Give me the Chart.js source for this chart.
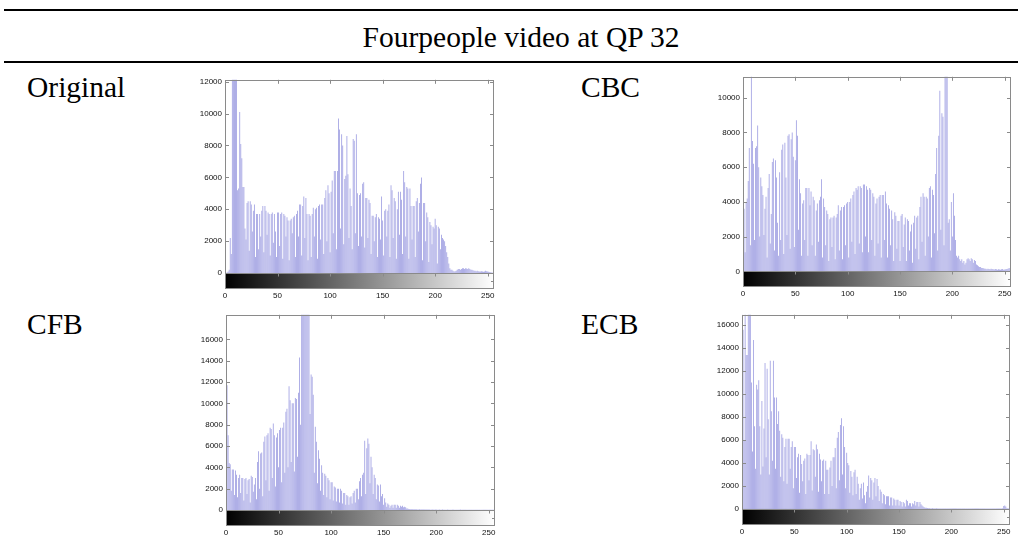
<!DOCTYPE html>
<html>
<head>
<meta charset="utf-8">
<script src="https://cdn.jsdelivr.net/npm/chart.js@4.4.1/dist/chart.umd.min.js"></script>
<style>
  html, body { margin: 0; padding: 0; background: #fff; }
  body { width: 1018px; height: 541px; position: relative; overflow: hidden; }
  .rule { position: absolute; left: 4px; width: 1014px; height: 2px; background: #000; }
  .lbl { position: absolute; font-family: "Liberation Serif", "Times New Roman", serif; font-size: 29.5px; line-height: 28px; color: #000; white-space: nowrap; }
  canvas { position: absolute; }
</style>
</head>
<body>
<div class="rule" style="top:9px"></div>
<div class="lbl" id="title" style="top:23px; left:0; width:1042px; text-align:center;">Fourpeople video at QP 32</div>
<div class="rule" style="top:61px"></div>
<div class="lbl" style="top:73px; left:27px;">Original</div>
<div class="lbl" style="top:73px; left:581px;">CBC</div>
<div class="lbl" style="top:310px; left:27px;">CFB</div>
<div class="lbl" style="top:310px; left:581px;">ECB</div>
<canvas id="c0"></canvas>
<canvas id="c1"></canvas>
<canvas id="c2"></canvas>
<canvas id="c3"></canvas>
<script>
// ---- data ----
const bins = Array.from({length: 256}, (_, i) => i);   // gray levels 0..255
const xTicks = [0, 50, 100, 150, 200, 250];

const originalCounts = [
  0, 0, 50, 100, 200, 2200, 1200, 14000, 16000, 13000,
  15000, 12500, 5200, 5300, 10100, 8100, 7200, 5400, 5400, 2800,
  2100, 4400, 4500, 1400, 4500, 4300, 2600, 3900, 4300, 1000,
  3700, 3700, 1500, 3700, 2300, 3900, 4200, 1300, 4200, 3900,
  2400, 3800, 3700, 1100, 3700, 3800, 1900, 3700, 2600, 1000,
  3800, 3800, 1700, 3700, 3800, 900, 3700, 3600, 2300, 3500,
  3300, 800, 3300, 3400, 2500, 3500, 3600, 1000, 3700, 3900,
  2300, 4300, 4300, 1100, 4200, 4800, 2200, 4700, 3700, 800,
  3700, 3600, 1000, 3700, 4100, 2300, 4000, 4100, 900, 4200,
  4300, 2100, 4300, 4300, 1200, 4700, 5200, 2000, 5500, 5000,
  1300, 5100, 5800, 2500, 6400, 6400, 1500, 6400, 9700, 9000,
  2800, 8700, 8000, 1800, 5900, 6100, 8600, 6200, 2200, 5300,
  4200, 1500, 8400, 8300, 2500, 8700, 5000, 1700, 4900, 5000,
  2300, 5600, 5700, 1600, 4700, 4700, 2200, 4600, 4400, 1200,
  3600, 3600, 2000, 3500, 3700, 1000, 3500, 3400, 2100, 4800,
  3300, 1100, 3900, 4000, 2300, 3900, 4300, 1000, 5500, 5200,
  2200, 4700, 4500, 900, 4000, 5100, 2400, 5100, 4600, 1200,
  6400, 5700, 2300, 5400, 5300, 900, 5300, 4200, 2100, 4200,
  4200, 1000, 4500, 4700, 2600, 4400, 5600, 6000, 800, 4400,
  4400, 2000, 3800, 3500, 700, 3200, 3000, 1800, 2900, 2800,
  3400, 3000, 600, 2900, 2800, 1500, 2400, 2200, 2100, 2000,
  1700, 1300, 1000, 600, 300, 200, 200, 150, 100, 120,
  150, 200, 250, 250, 200, 250, 300, 300, 250, 300,
  280, 250, 300, 250, 200, 200, 180, 150, 150, 120,
  150, 120, 100, 100, 120, 100, 80, 100, 150, 120,
  100, 80, 60, 50, 30, 20
];

const cbcCounts = [
  3700, 3600, 1100, 4000, 4200, 5200, 7100, 1500, 14000, 7500,
  6200, 1800, 7100, 7200, 8400, 6000, 2000, 5400, 4900, 4400,
  2100, 3600, 4300, 800, 4800, 5600, 1600, 3300, 6300, 6500,
  1200, 6400, 5400, 2800, 900, 5700, 1800, 7000, 7300, 1000,
  7400, 5400, 2100, 7800, 7900, 1300, 7600, 8000, 6600, 1400,
  6400, 8700, 7800, 2400, 5300, 4500, 900, 3900, 4100, 1800,
  4800, 4800, 900, 4800, 3800, 4600, 1500, 4300, 4100, 900,
  3500, 3900, 1700, 4100, 4300, 5300, 800, 4200, 3700, 1500,
  3500, 3300, 600, 3000, 3100, 1400, 3100, 3200, 700, 3100,
  3300, 3800, 1200, 3500, 3700, 700, 3700, 3800, 1500, 3900,
  4000, 800, 4000, 4200, 1700, 4400, 4600, 1000, 4800, 4700,
  4900, 1600, 4900, 4800, 1100, 5000, 5000, 2000, 4900, 4700,
  1100, 4800, 4700, 1800, 4500, 4300, 900, 3900, 4200, 1600,
  4300, 4400, 800, 4400, 4400, 1800, 4600, 3900, 800, 3800,
  3600, 1500, 3500, 3000, 600, 3400, 3200, 1300, 2900, 2900,
  600, 3200, 3300, 1400, 2700, 3100, 600, 3000, 2900, 1200,
  2300, 2700, 500, 2800, 3200, 1300, 3100, 3200, 700, 3700,
  4300, 1700, 4500, 4300, 900, 4300, 4200, 2000, 4800, 4900,
  800, 4700, 4400, 2200, 5600, 7100, 1200, 7800, 10400, 2400,
  9100, 8900, 1500, 13000, 14000, 12000, 2800, 3000, 1200, 4000,
  2000, 4500, 3200, 1800, 900, 800, 900, 700, 600, 700,
  500, 600, 400, 500, 700, 750, 700, 600, 750, 700,
  500, 650, 600, 400, 350, 300, 250, 250, 200, 200,
  180, 150, 150, 120, 150, 130, 120, 150, 140, 120,
  110, 130, 120, 100, 120, 110, 100, 120, 130, 100,
  110, 120, 130, 150, 180, 200
];

const cfbCounts = [
  8000, 11700, 7000, 4400, 4300, 1800, 3800, 3800, 1400, 3700,
  3300, 1200, 3000, 3300, 1600, 3000, 3000, 900, 2900, 3000,
  1500, 2800, 2900, 700, 3200, 3100, 1700, 2400, 3000, 1000,
  4500, 5500, 2000, 5300, 5400, 1300, 6400, 6900, 2800, 7000,
  7200, 1800, 7700, 7600, 3000, 8100, 7000, 2200, 6800, 7200,
  4000, 7500, 7700, 2600, 7700, 8200, 3500, 9200, 9500, 4000,
  11600, 10300, 4500, 10000, 10000, 3600, 10500, 10400, 5000, 11000,
  14300, 8000, 21000, 20000, 22000, 19500, 21000, 20000, 19000, 21000,
  9000, 12700, 12500, 10800, 3500, 7800, 6400, 2500, 5600, 4800,
  1800, 4200, 3500, 1400, 3400, 3200, 1200, 3000, 2800, 1000,
  2600, 2600, 900, 2200, 2100, 800, 2000, 2000, 700, 2000,
  1800, 600, 1600, 1600, 500, 1400, 1300, 500, 1200, 1300,
  600, 1600, 1800, 700, 2000, 2000, 1000, 2700, 3000, 1300,
  3300, 3500, 6500, 1500, 5800, 6700, 6200, 2500, 5000, 4000,
  1500, 3300, 3000, 1000, 2400, 2300, 800, 2400, 1300, 1500,
  500, 1100, 700, 300, 600, 500, 200, 400, 500, 200,
  500, 500, 200, 500, 400, 200, 400, 300, 400, 250,
  300, 250, 150, 150, 100, 100, 80, 100, 80, 60,
  80, 60, 50, 50, 60, 50, 40, 50, 40, 50,
  40, 40, 50, 40, 40, 30, 40, 40, 30, 40,
  40, 30, 30, 40, 30, 30, 40, 30, 30, 30,
  30, 40, 30, 30, 30, 30, 40, 30, 30, 30,
  30, 30, 30, 40, 30, 30, 30, 30, 30, 30,
  30, 30, 30, 30, 30, 30, 30, 30, 30, 30,
  30, 30, 30, 30, 30, 30, 30, 30, 30, 30,
  30, 30, 30, 30, 30, 30
];

const ecbCounts = [
  18000, 15600, 6000, 17000, 13400, 13400, 18000, 19000, 17500, 11000,
  5000, 14700, 7200, 3500, 10800, 10400, 11200, 7200, 3000, 9400,
  3700, 7000, 12700, 4500, 12200, 7800, 3000, 12900, 8500, 4200,
  12900, 9700, 3500, 9700, 7400, 8500, 6800, 2800, 6500, 6200,
  2400, 5400, 6100, 2200, 6100, 6100, 3500, 5400, 5900, 1800,
  5400, 5400, 2700, 4500, 4800, 1400, 4700, 3900, 2400, 4200,
  4400, 1300, 4800, 4700, 2500, 4700, 5900, 1600, 5200, 5100,
  2800, 5600, 5200, 1500, 4800, 4300, 2400, 4200, 4300, 1300,
  4200, 3400, 3400, 1300, 3600, 4200, 2000, 4500, 4500, 5300,
  1800, 6200, 6700, 2500, 7300, 7900, 3000, 7200, 5400, 1800,
  4900, 4000, 3800, 1400, 3300, 2800, 1200, 3200, 3400, 1300,
  2800, 2200, 800, 1800, 2200, 900, 2300, 1200, 500, 1500,
  2000, 2900, 1000, 2700, 2500, 800, 2300, 2700, 1100, 2600,
  2000, 700, 1700, 1500, 500, 1300, 1200, 400, 1100, 1100,
  1100, 300, 1000, 1000, 300, 900, 800, 300, 800, 800,
  300, 700, 600, 200, 600, 500, 200, 800, 700, 300,
  500, 500, 200, 500, 400, 700, 300, 600, 600, 200,
  600, 400, 300, 200, 150, 100, 100, 80, 60, 50,
  40, 40, 50, 40, 40, 40, 50, 40, 40, 40,
  40, 40, 40, 40, 40, 40, 40, 40, 40, 40,
  40, 40, 40, 40, 40, 40, 40, 40, 40, 40,
  40, 40, 40, 40, 40, 40, 40, 40, 40, 40,
  40, 40, 40, 40, 40, 40, 40, 40, 40, 40,
  40, 40, 40, 40, 40, 40, 40, 40, 40, 40,
  40, 40, 40, 40, 40, 40, 40, 40, 40, 50,
  250, 300, 200, 60, 50, 40
];

const originalYTicks = [0, 2000, 4000, 6000, 8000, 10000, 12000];
const cbcYTicks = [0, 2000, 4000, 6000, 8000, 10000];
const cfbYTicks = [0, 2000, 4000, 6000, 8000, 10000, 12000, 14000, 16000];
const ecbYTicks = [0, 2000, 4000, 6000, 8000, 10000, 12000, 14000, 16000];

// ---- layout (plot rectangles in page px) ----
const panels = [
  { canvas: 'c0', counts: originalCounts, yTicks: originalYTicks, yMin: -1000, yMax: 12120, rect: [225, 78, 494, 289] },
  { canvas: 'c1', counts: cbcCounts,      yTicks: cbcYTicks,      yMin: -900,  yMax: 11200, rect: [743, 75, 1011, 287] },
  { canvas: 'c2', counts: cfbCounts,      yTicks: cfbYTicks,      yMin: -1500, yMax: 18300, rect: [226, 313, 495, 526] },
  { canvas: 'c3', counts: ecbCounts,      yTicks: ecbYTicks,      yMin: -1400, yMax: 16900, rect: [742, 313, 1010, 525] }
];

const AXW = 40, PADT = 6, PADR = 6, AXH = 16;
const BOX = '#8a8a8a';
const TICKFONT = { family: '"Liberation Sans", Arial, sans-serif', size: 8 };

const histFrame = {
  id: 'histFrame',
  beforeDatasetsDraw(chart) {
    const { ctx, chartArea: a, scales: { y } } = chart;
    const y0 = y.getPixelForValue(0);
    const g = ctx.createLinearGradient(a.left, 0, a.right, 0);
    g.addColorStop(0, '#000000');
    g.addColorStop(1, '#ffffff');
    ctx.save();
    ctx.fillStyle = g;
    ctx.fillRect(a.left, y0, a.right - a.left, a.bottom - y0);
    ctx.restore();
  },
  afterDatasetsDraw(chart) {
    const { ctx, chartArea: a, scales: { x, y } } = chart;
    const y0 = Math.round(y.getPixelForValue(0)) + 0.5;
    ctx.save();
    ctx.strokeStyle = BOX;
    ctx.lineWidth = 1;
    ctx.strokeRect(Math.round(a.left) + 0.5, Math.round(a.top) + 0.5,
                   Math.round(a.right - a.left) - 1, Math.round(a.bottom - a.top) - 1);
    ctx.beginPath();
    ctx.moveTo(a.left, y0); ctx.lineTo(a.right, y0);
    y.ticks.forEach(t => {
      if (t.value <= 0) return;
      const py = Math.round(y.getPixelForValue(t.value)) + 0.5;
      ctx.moveTo(a.left, py); ctx.lineTo(a.left + 4, py);
      ctx.moveTo(a.right - 4, py); ctx.lineTo(a.right, py);
    });
    // colour-bar side tick (middle of the bar, right edge)
    const ym = Math.round((y0 + a.bottom) / 2) + 0.5;
    ctx.moveTo(a.right - 3, ym); ctx.lineTo(a.right, ym);
    x.ticks.forEach(t => {
      if (t.value <= 0) return;
      const px = Math.round(x.getPixelForValue(t.value)) + 0.5;
      ctx.moveTo(px, a.top); ctx.lineTo(px, a.top + 4);
      ctx.moveTo(px, y0); ctx.lineTo(px, y0 + 3);
    });
    ctx.stroke();
    ctx.restore();
  }
};

panels.forEach(p => {
  const [L, T, R, B] = p.rect;
  const cv = document.getElementById(p.canvas);
  const w = (R - L) + AXW + PADR, h = (B - T) + PADT + AXH;
  cv.width = w; cv.height = h;
  cv.style.left = (L - AXW) + 'px';
  cv.style.top = (T - PADT) + 'px';
  cv.style.width = w + 'px'; cv.style.height = h + 'px';

  new Chart(cv, {
    type: 'bar',
    data: {
      datasets: [{
        data: bins.map((b, i) => ({ x: b, y: p.counts[i] })),
        backgroundColor: '#a6a6e4',
        borderWidth: 0,
        barPercentage: 0.85,
        categoryPercentage: 1.0
      }]
    },
    options: {
      responsive: false,
      animation: false,
      devicePixelRatio: 1,
      layout: { padding: { top: PADT, right: PADR, left: 0, bottom: 0 } },
      plugins: { legend: { display: false }, tooltip: { enabled: false } },
      scales: {
        x: {
          type: 'linear', min: 0, max: 256, offset: false,
          grid: { display: false, drawTicks: false }, border: { display: false },
          afterBuildTicks: s => { s.ticks = xTicks.map(v => ({ value: v })); },
          afterFit: s => { s.height = AXH; },
          ticks: { padding: 2, maxRotation: 0, autoSkip: false, font: TICKFONT, color: '#111',
                   callback: v => String(v) }
        },
        y: {
          min: p.yMin, max: p.yMax,
          grid: { display: false, drawTicks: false }, border: { display: false },
          afterBuildTicks: s => { s.ticks = p.yTicks.map(v => ({ value: v })); },
          afterFit: s => { s.width = AXW; },
          ticks: { padding: 3, autoSkip: false, font: TICKFONT, color: '#111',
                   callback: v => String(v) }
        }
      }
    },
    plugins: [histFrame]
  });
});
</script>
</body>
</html>
